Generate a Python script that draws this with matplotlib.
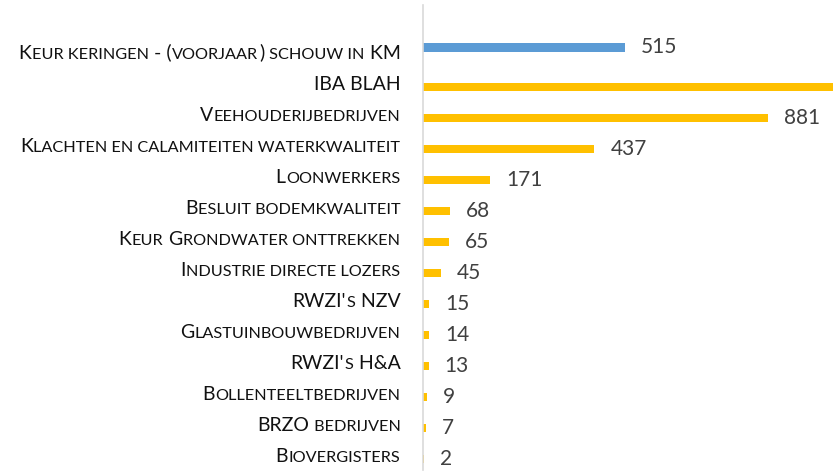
import numpy as np
import matplotlib.pyplot as plt
import matplotlib.transforms as mtransforms

# categorieen (van boven naar beneden)
categories = [
    "Keur keringen - (voorjaar) schouw in KM",
    "IBA BLAH",
    "Veehouderijbedrijven",
    "Klachten en calamiteiten waterkwaliteit",
    "Loonwerkers",
    "Besluit bodemkwaliteit",
    "Keur Grondwater onttrekken",
    "Industrie directe lozers",
    "RWZI's NZV",
    "Glastuinbouwbedrijven",
    "RWZI's H&A",
    "Bollenteeltbedrijven",
    "BRZO bedrijven",
    "Biovergisters",
]

# twee reeksen: blauw alleen voor de keur keringen, geel voor de rest
blue_values = [515] + [np.nan] * 13
gold_values = [np.nan, 1250, 881, 437, 171, 68, 65, 45, 15, 14, 13, 9, 7, 2]

x_max = 1047

fig = plt.figure(figsize=(8.33, 4.74), dpi=100)
ax = fig.add_axes([0.5084, 0.0084, 0.4916, 0.981])

y = np.arange(len(categories))
h = 0.27
bars_blue = ax.barh(y - h / 2, blue_values, height=h, color='#5B9BD5')
bars_gold = ax.barh(y + h / 2, gold_values, height=h, color='#FFC000')

ax.set_xlim(0, x_max)
ax.set_ylim(len(categories) - 0.5, -1.5)

# waardelabels (niet voor balken die buiten beeld lopen)
def fmt(vals):
    return ['' if np.isnan(v) or v > x_max else '%d' % v for v in vals]

ax.bar_label(bars_blue, labels=fmt(blue_values), padding=11.5, fontsize=15,
             color='#404040', family='Lato')
ax.bar_label(bars_gold, labels=fmt(gold_values), padding=11.5, fontsize=15,
             color='#404040', family='Lato')

# assen
for s in ['top', 'right', 'bottom']:
    ax.spines[s].set_visible(False)
ax.spines['left'].set_color('#D9D9D9')
ax.spines['left'].set_linewidth(1.2)
ax.set_xticks([])
ax.set_yticks([])

# "klein kapitaal" labels nabootsen: kleine letters als kleinere hoofdletters
def runs(s):
    out = []
    for j, ch in enumerate(s):
        if ch == ' ':
            nxt = next((c for c in s[j:] if c != ' '), 'A')
            small = nxt.islower()
        else:
            small = ch.islower()
        if out and out[-1][1] == small:
            out[-1][0] += ch
        else:
            out.append([ch, small])
    return out

big_size = 14
small_size = 11.7

fig.canvas.draw()
r = fig.canvas.get_renderer()
for i, lab in enumerate(categories):
    x_off = -23
    for seg, small in reversed(runs(lab)):
        tr = mtransforms.offset_copy(ax.get_yaxis_transform(), fig=fig,
                                     x=x_off, y=-7, units='dots')
        t = ax.text(0, i, seg.upper(), transform=tr, ha='right', va='baseline',
                    fontsize=small_size if small else big_size,
                    color='#111111', family='Lato')
        x_off -= t.get_window_extent(r).width + 0.5

fig.savefig('out.png', dpi=100)
